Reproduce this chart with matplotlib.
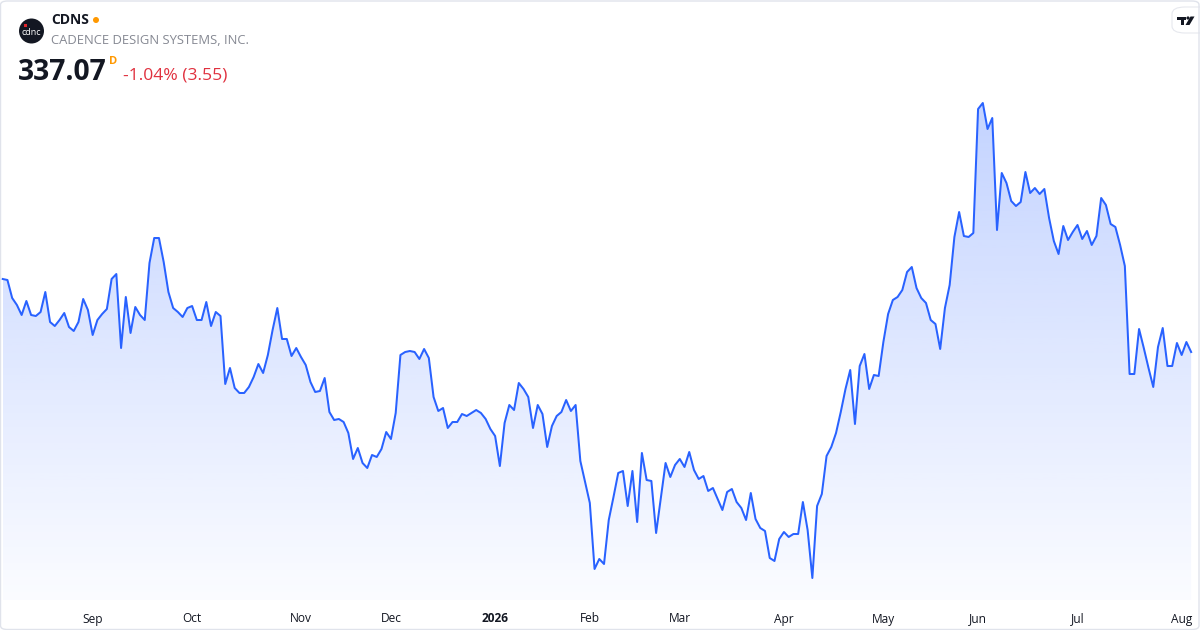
import matplotlib

matplotlib.use("Agg")
import matplotlib.pyplot as plt
import numpy as np
import pandas as pd
from matplotlib.patches import Ellipse, FancyBboxPatch, PathPatch, Polygon, Rectangle

# CDNS daily closes
PRICES = [
    362.99, 362.63, 356.24, 353.76, 350.21, 355.18, 350.21, 349.85, 351.27, 358.37,
    347.72, 346.30, 348.43, 350.92, 345.95, 344.53, 347.72, 355.89, 351.98, 343.11,
    348.43, 350.56, 352.34, 362.99, 364.76, 338.49, 356.60, 343.82, 353.05, 350.21,
    348.43, 368.67, 377.54, 377.54, 369.02, 358.37, 352.69, 351.27, 349.50, 352.69,
    353.40, 348.43, 348.43, 354.82, 346.30, 351.27, 349.85, 325.71, 331.39, 324.29,
    322.52, 322.52, 324.65, 328.20, 332.81, 329.62, 336.01, 344.88, 352.69, 341.69,
    341.69, 335.65, 338.49, 335.30, 332.46, 326.42, 322.87, 323.23, 327.84, 315.77,
    312.93, 313.29, 312.22, 308.32, 299.09, 302.99, 297.67, 295.89, 300.51, 299.80,
    302.64, 308.67, 306.19, 315.42, 336.01, 337.07, 337.43, 337.07, 334.59, 338.14,
    334.94, 321.10, 316.13, 317.19, 310.09, 312.22, 312.22, 315.06, 314.35, 315.42,
    316.48, 315.42, 313.29, 309.74, 307.25, 296.60, 311.87, 318.26, 316.48, 326.07,
    323.94, 321.10, 310.09, 318.26, 315.06, 303.35, 310.80, 314.35, 315.77, 320.03,
    316.13, 318.26, 298.38, 290.92, 283.47, 260.04, 263.59, 261.81, 277.43, 285.60,
    294.12, 294.83, 282.40, 294.83, 276.72, 301.22, 291.63, 291.28, 272.82, 285.24,
    297.67, 292.70, 296.96, 299.09, 296.25, 301.57, 295.18, 291.99, 293.05, 287.73,
    288.79, 284.89, 280.98, 287.37, 288.44, 283.82, 281.69, 277.43, 287.02, 277.79,
    274.59, 273.53, 263.94, 262.88, 270.69, 273.17, 271.40, 272.46, 272.46, 283.82,
    273.88, 256.84, 282.40, 286.66, 300.15, 303.35, 308.32, 315.77, 323.94, 330.68,
    311.51, 332.10, 336.36, 323.94, 328.91, 328.55, 340.62, 350.56, 355.53, 356.60,
    359.08, 365.47, 367.25, 359.79, 356.24, 354.47, 348.43, 347.01, 338.14, 352.69,
    360.86, 377.90, 386.77, 378.25, 377.90, 379.32, 423.34, 425.47, 416.24, 420.14,
    380.38, 400.62, 397.07, 390.68, 388.90, 390.32, 400.97, 393.52, 395.29, 393.16,
    394.94, 384.64, 376.48, 371.86, 381.80, 376.83, 379.67, 382.16, 377.19, 380.03,
    375.06, 378.25, 391.74, 389.26, 382.51, 381.45, 375.06, 367.60, 329.26, 329.26,
    345.24, 338.49, 331.39, 324.65, 338.85, 345.59, 332.10, 332.10, 340.27, 336.01,
    340.62, 337.07,
]
START_DATE = "2025-08-05"
HOLIDAYS = [
    "2025-09-01", "2025-11-27", "2025-12-25", "2026-01-01", "2026-01-19",
    "2026-02-16", "2026-04-03", "2026-05-25", "2026-06-19", "2026-07-03",
]

TICKER = "CDNS"
COMPANY = "CADENCE DESIGN SYSTEMS, INC."
LAST = "337.07"
CHANGE = "-1.04% (3.55)"

LINE = "#2962FF"
TEXT = "#131722"

W, H = 1200, 630


def px(x, y):
    """pixel (from top-left) -> figure fraction"""
    return x / W, 1 - y / H


def dot(fig, cx, cy, r, color):
    fig.patches.append(Ellipse(px(cx, cy), 2 * r / W, 2 * r / H, transform=fig.transFigure,
                               facecolor=color, edgecolor="none"))


dates = pd.bdate_range(START_DATE, periods=len(PRICES), freq="C", holidays=HOLIDAYS)
x = np.arange(len(PRICES))
y = np.array(PRICES)

tick_pos, tick_lab = [], []
for i in range(1, len(dates)):
    if dates[i].month != dates[i - 1].month:
        tick_pos.append(i)
        tick_lab.append(str(dates[i].year) if dates[i].month == 1 else dates[i].strftime("%b"))

plt.rcParams["font.family"] = ["Open Sans", "DejaVu Sans"]
fig = plt.figure(figsize=(12, 6.3), dpi=100)
fig.patch.set_facecolor("white")

ax = fig.add_axes([1 / W, 30 / H, 1197 / W, 505 / H])
ax.set_xlim(-0.36, 252.45)
ybot, ytop = 249.03, 428.31
ax.set_ylim(ybot, ytop)
for s in ax.spines.values():
    s.set_visible(False)
ax.set_yticks([])
ax.set_facecolor("none")

# gradient area under the line
poly = ax.fill_between(x, y, ybot, facecolor="none", edgecolor="none")
clip = PathPatch(poly.get_paths()[0], facecolor="none", edgecolor="none", transform=ax.transData)
ax.add_patch(clip)
grad = np.zeros((256, 1, 4))
grad[:, 0, 0:3] = matplotlib.colors.to_rgb(LINE)
grad[:, 0, 3] = np.linspace(0.28, 0.02, 256)
im = ax.imshow(grad, extent=[x[0], x[-1], ybot, y.max()], aspect="auto",
               origin="upper", zorder=1)
im.set_clip_path(clip)

ax.plot(x, y, color=LINE, lw=1.45, zorder=3, solid_joinstyle="round")

ax.set_xticks(tick_pos)
ax.set_xticklabels(tick_lab)
ax.tick_params(axis="x", length=0, pad=9, labelsize=8.6, labelcolor=TEXT)
for lab in ax.get_xticklabels():
    if lab.get_text().isdigit():
        lab.set_fontweight("bold")

# header
dot(fig, 31.5, 31, 12.5, "#131722")
fig.text(*px(31.5, 32.5), "cdnc", color="white", fontsize=6.5, ha="center", va="center")
fig.patches.append(Rectangle(px(24, 27), 3 / W, 3 / H, transform=fig.transFigure,
                             facecolor="#e0252b", edgecolor="none"))
fig.text(*px(51, 20), TICKER, fontsize=10, fontweight="bold", color=TEXT, va="center")
dot(fig, 96, 20, 3, "#ff9800")
fig.text(*px(51, 41), COMPANY, fontsize=9.4, color="#868993", va="center")
fig.text(*px(18, 72), LAST, fontsize=20.3, fontweight="bold", color=TEXT, va="center")
fig.text(*px(109, 61), "D", fontsize=8, fontweight="bold", color="#ff9800", va="center")
fig.text(*px(123, 75), CHANGE, fontsize=12.6, color="#e0313f", va="center")

# TradingView badge
fig.patches.append(FancyBboxPatch(px(1172, 33), 40 / W, 26 / H, transform=fig.transFigure,
                                  boxstyle="round,pad=0,rounding_size=0.011",
                                  facecolor="white", edgecolor="#e6e8ee", lw=0.8))
for pts in ([(1177, 16.5), (1186, 16.5), (1186, 19.5), (1184, 19.5), (1184, 25),
             (1181, 25), (1181, 19.5), (1177, 19.5)],
            [(1190.5, 16.5), (1194.5, 16.5), (1189.5, 25), (1185.5, 25)]):
    fig.patches.append(Polygon([px(a, b) for a, b in pts], closed=True,
                               transform=fig.transFigure, facecolor=TEXT, edgecolor="none"))
dot(fig, 1188, 18, 1.6, TEXT)

# outer frame
fig.patches.append(FancyBboxPatch((0.5 / W, 0.5 / H), 1 - 1.5 / W, 1 - 1.5 / H,
                                  transform=fig.transFigure,
                                  boxstyle="round,pad=0,rounding_size=0.006",
                                  facecolor="none", edgecolor="#e0e3eb", lw=1))

fig.savefig("out.png", dpi=100)
